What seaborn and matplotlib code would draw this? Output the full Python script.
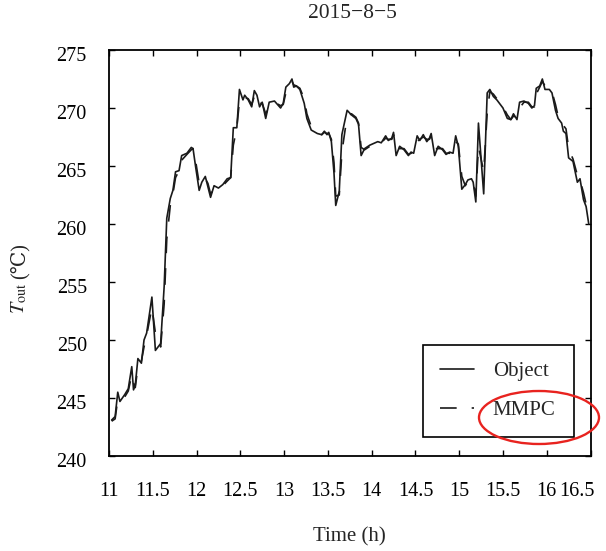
import matplotlib
matplotlib.use("Agg")
import matplotlib.pyplot as plt
import matplotlib.transforms as mtransforms
from matplotlib.patches import Ellipse
import pandas as pd
import seaborn as sns

# Outlet temperature over the day (h, °C)
time_h = [
    11.03, 11.07, 11.10, 11.125, 11.18, 11.22, 11.26, 11.28, 11.30, 11.33,
    11.37, 11.40, 11.43, 11.49, 11.53, 11.59, 11.63, 11.66, 11.70, 11.73,
    11.76, 11.80, 11.83, 11.89, 11.94, 11.96, 11.99, 12.03, 12.06, 12.10,
    12.13, 12.16, 12.20, 12.25, 12.30, 12.35, 12.39, 12.42, 12.46, 12.49,
    12.53, 12.55, 12.59, 12.63, 12.66, 12.69, 12.72, 12.75, 12.79, 12.83,
    12.89, 12.96, 12.99, 13.02, 13.06, 13.09, 13.11, 13.14, 13.18, 13.23,
    13.26, 13.31, 13.38, 13.43, 13.46, 13.49, 13.51, 13.54, 13.57, 13.59,
    13.63, 13.66, 13.72, 13.77, 13.82, 13.85, 13.88, 13.92, 13.98, 14.07,
    14.11, 14.16, 14.19, 14.23, 14.25, 14.28, 14.32, 14.37, 14.42, 14.45,
    14.48, 14.52, 14.55, 14.59, 14.63, 14.66, 14.68, 14.72, 14.76, 14.81,
    14.85, 14.89, 14.93, 14.96, 14.99, 15.03, 15.07, 15.10, 15.14, 15.16,
    15.19, 15.22, 15.28, 15.32, 15.35, 15.39, 15.43, 15.46, 15.50, 15.55,
    15.59, 15.62, 15.66, 15.69, 15.74, 15.79, 15.83, 15.86, 15.88, 15.92,
    15.95, 15.98, 16.03, 16.06, 16.10, 16.13, 16.17, 16.19, 16.22, 16.25,
    16.30, 16.35, 16.38, 16.42, 16.45, 16.48,
]

object_temp = [
    243.1, 243.4, 245.5, 244.7, 245.3, 245.8, 247.7, 245.7, 246.1, 248.4,
    248.0, 250.0, 250.6, 253.7, 249.1, 249.7, 254.6, 260.5, 262.2, 262.9,
    264.5, 264.6, 265.9, 266.1, 266.6, 266.5, 264.9, 262.9, 263.6, 264.1,
    263.2, 262.3, 263.3, 263.1, 263.4, 263.9, 264.0, 268.3, 268.3, 271.6,
    270.7, 271.1, 270.7, 270.1, 271.5, 271.1, 270.1, 270.5, 269.1, 270.5,
    270.6, 270.0, 270.4, 271.8, 272.1, 272.5, 271.8, 271.9, 271.6, 270.4,
    269.1, 268.1, 267.8, 267.7, 268.0, 267.7, 267.9, 267.1, 264.4, 261.6,
    262.8, 267.7, 269.8, 269.4, 269.1, 268.6, 265.9, 266.5, 266.8, 267.1,
    267.0, 267.6, 267.2, 267.4, 267.9, 265.9, 266.7, 266.4, 265.9, 266.2,
    266.1, 267.6, 267.2, 267.7, 267.1, 267.4, 267.8, 265.9, 266.7, 266.4,
    266.0, 266.2, 266.1, 267.6, 266.7, 263.0, 263.4, 263.8, 263.9, 263.6,
    261.9, 268.7, 262.6, 271.3, 271.6, 271.0, 270.7, 270.4, 270.0, 269.1,
    269.0, 269.5, 269.0, 270.5, 270.6, 270.4, 270.0, 270.2, 271.7, 271.9,
    272.5, 271.6, 271.6, 271.3, 269.8, 269.1, 268.7, 268.0, 267.8, 265.7,
    265.4, 263.6, 263.9, 262.1, 261.5, 260.0,
]

mmpc_temp = [
    243.0, 243.2, 244.9, 245.0, 245.1, 245.6, 247.0, 246.3, 245.9, 247.7,
    248.2, 249.4, 250.4, 252.8, 250.6, 249.4, 253.1, 258.7, 261.6, 262.6,
    264.0, 264.6, 265.5, 266.0, 266.4, 266.5, 265.4, 263.5, 263.4, 263.9,
    263.5, 262.6, 263.0, 263.2, 263.3, 263.7, 264.0, 266.8, 268.3, 270.6,
    271.0, 270.9, 270.8, 270.3, 271.0, 271.2, 270.4, 270.4, 269.5, 270.1,
    270.5, 270.2, 270.3, 271.3, 272.0, 272.3, 272.0, 271.9, 271.7, 270.8,
    269.5, 268.4, 267.9, 267.7, 267.9, 267.8, 267.8, 267.3, 265.3, 262.4,
    262.5, 266.2, 269.3, 269.5, 269.2, 268.7, 266.6, 266.4, 266.7, 267.0,
    267.0, 267.4, 267.3, 267.3, 267.7, 266.5, 266.5, 266.5, 266.0, 266.1,
    266.1, 267.1, 267.3, 267.5, 267.3, 267.3, 267.6, 266.5, 266.5, 266.5,
    266.1, 266.1, 266.1, 267.1, 266.9, 264.1, 263.3, 263.7, 263.8, 263.7,
    262.4, 266.7, 264.5, 269.6, 271.4, 271.2, 270.8, 270.5, 270.1, 269.4,
    269.0, 269.3, 269.2, 270.0, 270.5, 270.5, 270.1, 270.1, 271.2, 271.8,
    272.3, 271.9, 271.6, 271.4, 270.3, 269.3, 268.9, 268.5, 268.2, 266.5,
    265.6, 264.2, 263.8, 262.7, 261.7, 260.8,
]

series_names = ["Object", "MMPC"]
x_ticks = [11, 11.5, 12, 12.5, 13, 13.5, 14, 14.5, 15, 15.5, 16, 16.5]
x_tick_labels = ["11", "11.5", "12", "12.5", "13", "13.5", "14", "14.5",
                 "15", "15.5", "16", "16.5"]
y_ticks = [240, 245, 250, 255, 260, 265, 270, 275]
title_text = "2015\u22128\u22125"
x_label = "Time (h)"
y_label_symbol = r"$T_{\mathrm{out}}$"
y_label_unit = "(\u2103)"

sns.set_style("ticks")
plt.rcParams["font.family"] = ["Liberation Serif", "DejaVu Serif"]
plt.rcParams["mathtext.fontset"] = "stix"

n = len(time_h)
df = pd.DataFrame({
    "Time": time_h + time_h,
    "Tout": object_temp + mmpc_temp,
    "Series": [series_names[0]] * n + [series_names[1]] * n,
})

W, H = 606, 551
fig = plt.figure(figsize=(W / 100, H / 100), dpi=100)
ax = fig.add_axes([109 / W, (H - 456) / H, 481.5 / W, 406 / H])

line_color = "#1a1a1a"
sns.lineplot(
    data=df, x="Time", y="Tout", hue="Series", style="Series",
    palette={series_names[0]: line_color, series_names[1]: line_color},
    dashes={series_names[0]: "", series_names[1]: (10, 9)},
    linewidth=1.2, estimator=None, sort=False, legend=False, ax=ax,
)

ax.set_xlim(11, 16.5)
ax.set_ylim(240, 275)
ax.set_xticks(x_ticks)
ax.set_xticklabels(x_tick_labels)
ax.set_yticks(y_ticks)
ax.set_xlabel("")
ax.set_ylabel("")

for side in ["left", "right", "top", "bottom"]:
    ax.spines[side].set_visible(True)
    ax.spines[side].set_color("black")
    ax.spines[side].set_linewidth(1.3)

ax.tick_params(axis="both", direction="in", length=4, width=1.0,
               top=True, right=True, colors="black", labelsize=14.5)
ax.tick_params(axis="x", pad=19)
ax.tick_params(axis="y", pad=16)

# y tick labels sit slightly below their ticks
shift = mtransforms.ScaledTranslation(0, -4 / 100, fig.dpi_scale_trans)
for lbl in ax.get_yticklabels():
    lbl.set_transform(lbl.get_transform() + shift)
# keep the last x tick label inside the figure
last_shift = mtransforms.ScaledTranslation(-14 / 100, 0, fig.dpi_scale_trans)
last_lbl = ax.get_xticklabels()[-1]
last_lbl.set_transform(last_lbl.get_transform() + last_shift)

lines = ax.get_lines()[:2]
leg = ax.legend(
    lines, series_names, loc="lower left",
    bbox_to_anchor=(0.652, 0.047, 0.314, 0.226), mode="expand",
    fontsize=15, handlelength=1.65, handletextpad=0.9,
    labelspacing=0.95, borderpad=0.8, borderaxespad=0.0,
    frameon=True, fancybox=False, framealpha=1.0, edgecolor="black",
)
leg.get_frame().set_linewidth(1.2)

fig.text(352 / W, 1 - 14 / H, title_text, ha="center", va="center", fontsize=15.5)
fig.text(349.5 / W, 1 - 537 / H, x_label, ha="center", va="center", fontsize=15)
fig.text(19 / W, 1 - 314 / H, y_label_symbol, rotation=90, ha="center",
         va="bottom", fontsize=14.5)
fig.text(20 / W, 1 - 279 / H, y_label_unit, rotation=90, ha="center",
         va="bottom", fontsize=14.5)

ring = Ellipse((539 / W, 1 - 417.5 / H), 120 / W, 53 / H,
               transform=fig.transFigure, fill=False, edgecolor="#e8231f",
               linewidth=1.7, clip_on=False)
fig.add_artist(ring)

fig.savefig("out.png", dpi=100)
